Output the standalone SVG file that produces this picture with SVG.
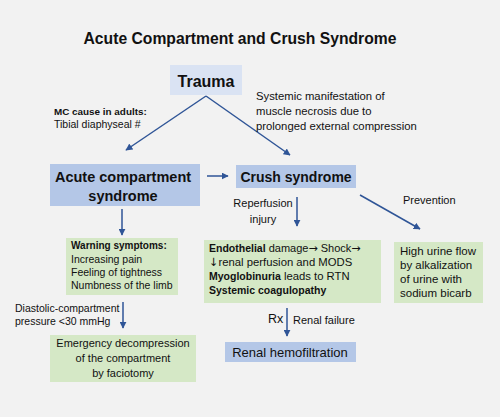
<svg xmlns="http://www.w3.org/2000/svg" width="500" height="417" viewBox="0 0 500 417">
<defs>
<marker id="ah" viewBox="0 0 10 10" refX="9" refY="5" markerWidth="7" markerHeight="7" markerUnits="userSpaceOnUse" orient="auto"><path d="M0,0 L10,5 L0,10 z" fill="#2f5597"/></marker>
<style>
text{font-family:"Liberation Sans",Arial,sans-serif;fill:#111}
.b{font-weight:bold}
.blue{fill:#b4c7e7}
.lblue{fill:#dae3f3}
.green{fill:#d5e8c6}
.con{stroke:#2f5597;stroke-width:1.5;fill:none;marker-end:url(#ah)}
.s12{font-size:11px}
.mid{text-anchor:middle}
.arr{font-family:"DejaVu Sans",sans-serif}
</style>
</defs>
<rect width="500" height="417" fill="#f2f2f2"/>
<text class="b mid" x="240" y="44" font-size="15.7">Acute Compartment and Crush Syndrome</text>

<g id="connectors">
<line class="con" x1="206" y1="96" x2="126" y2="150"/>
<line class="con" x1="206" y1="96" x2="290" y2="155"/>
<line class="con" x1="207" y1="176" x2="228" y2="176"/>
<line class="con" x1="122" y1="209" x2="122" y2="235"/>
<line class="con" x1="297" y1="197" x2="297" y2="226"/>
<line class="con" x1="360" y1="195" x2="420" y2="229"/>
<line class="con" x1="123" y1="302" x2="123" y2="328"/>
<line class="con" x1="287" y1="308" x2="287" y2="336"/>
</g>

<g id="trauma">
<rect class="lblue" x="170" y="65" width="72" height="30"/>
<text class="b mid" x="206" y="87" font-size="16">Trauma</text>
</g>

<g id="mc-cause">
<text class="b" x="54" y="115" font-size="9.9">MC cause in adults:</text>
<text x="54" y="128" font-size="10.5">Tibial diaphyseal #</text>
</g>

<g id="systemic">
<text x="256" y="100" font-size="11.3">Systemic manifestation of</text>
<text x="256" y="115" font-size="11.3">muscle necrosis due to</text>
<text x="256" y="130" font-size="11.3">prolonged external compression</text>
</g>

<g id="acs">
<rect class="blue" x="50" y="164" width="150" height="42"/>
<text class="b mid" x="123" y="182" font-size="14.5">Acute compartment</text>
<text class="b mid" x="123" y="201" font-size="14.5">syndrome</text>
</g>

<g id="crush">
<rect class="blue" x="236" y="165" width="120" height="23"/>
<text class="b mid" x="296" y="182" font-size="14">Crush syndrome</text>
</g>

<g id="reperfusion">
<text class="s12 mid" x="263" y="207">Reperfusion</text>
<text class="s12 mid" x="263" y="223">injury</text>
</g>

<g id="prevention">
<text class="s12" x="403" y="204">Prevention</text>
</g>

<g id="warning">
<rect class="green" x="66" y="238" width="112" height="57"/>
<text class="b" x="71" y="249" font-size="10">Warning symptoms:</text>
<text x="71" y="263" font-size="10.5">Increasing pain</text>
<text x="71" y="276" font-size="10.5">Feeling of tightness</text>
<text x="71" y="289" font-size="10.5">Numbness of the limb</text>
</g>

<g id="endothelial">
<rect class="green" x="204" y="240" width="177" height="63"/>
<text x="209" y="252" font-size="11"><tspan class="b" font-size="10.5">Endothelial</tspan> damage<tspan class="arr">→</tspan> Shock<tspan class="arr">→</tspan></text>
<text x="209" y="266" font-size="11.3"><tspan class="arr">↓</tspan>renal perfusion and MODS</text>
<text x="209" y="280" font-size="11.3"><tspan class="b" font-size="10.5">Myoglobinuria</tspan> leads to RTN</text>
<text class="b" x="209" y="294" font-size="10.5">Systemic coagulopathy</text>
</g>

<g id="high-urine">
<rect class="green" x="394" y="242" width="89" height="61"/>
<text x="400" y="255" font-size="11.5">High urine flow</text>
<text x="400" y="269" font-size="11.5">by alkalization</text>
<text x="400" y="283" font-size="11.5">of urine with</text>
<text x="400" y="297" font-size="11.5">sodium bicarb</text>
</g>

<g id="diastolic">
<text x="15" y="312" font-size="10.5">Diastolic-compartment</text>
<text x="15" y="325" font-size="10.5">pressure &lt;30 mmHg</text>
</g>

<g id="emergency">
<rect class="green" x="50" y="335" width="146" height="47"/>
<text class="mid" x="123" y="347" font-size="11">Emergency decompression</text>
<text class="mid" x="123" y="362" font-size="11">of the compartment</text>
<text class="mid" x="123" y="377" font-size="11">by faciotomy</text>
</g>

<g id="rx">
<text x="268" y="323" font-size="12.5">Rx</text>
<text x="293" y="324" font-size="11">Renal failure</text>
</g>

<g id="renal-hemo">
<rect class="blue" x="225" y="342" width="131" height="20"/>
<text class="mid" x="290" y="357" font-size="13">Renal hemofiltration</text>
</g>
</svg>
